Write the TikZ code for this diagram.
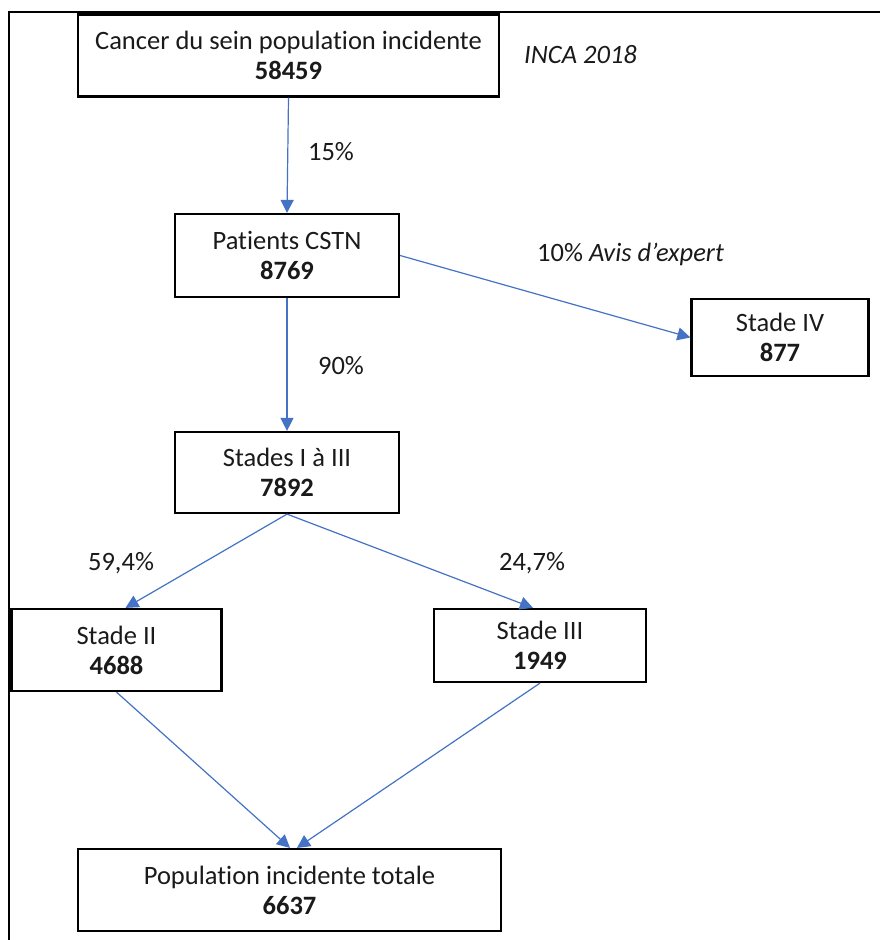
\documentclass[tikz,border=0pt]{standalone}
\usepackage{fontspec}
\setmainfont{Carlito}[Ligatures={NoCommon}]
\usetikzlibrary{arrows.meta}
\definecolor{arrowblue}{HTML}{4472C4}
\definecolor{txt}{HTML}{1A1A1A}
\begin{document}
\begin{tikzpicture}[x=1pt,y=-1pt,
  box/.style={draw=black, line width=2.2pt, fill=white, align=center, text=txt,
    inner sep=0pt, font=\fontsize{26.5}{30}\selectfont},
  lbl/.style={text=txt, inner sep=0pt, font=\fontsize{26.5}{30}\selectfont},
  flow/.style={draw=arrowblue, line width=1.2pt, -{Triangle[length=13pt,width=13pt]}}]
\useasboundingbox (0,0) rectangle (879,940);
\fill[white] (0,0) rectangle (879,940);
% outer frame (partially visible)
\draw[line width=2pt] (8.5,941) -- (8.5,12) -- (880,12);
% boxes
\node[box, minimum width=421pt, minimum height=82pt] (b1) at (288.5,55.5) {Cancer du sein population incidente\\\textbf{58459}};
\node[box, minimum width=224pt, minimum height=83pt] (b2) at (287,255.5) {Patients CSTN\\\textbf{8769}};
\node[box, minimum width=177pt, minimum height=77pt] (b4) at (780,337.5) {Stade IV\\\textbf{877}};
\node[box, minimum width=224pt, minimum height=81pt] (b3) at (287,472.5) {Stades I à III\\\textbf{7892}};
\node[box, minimum width=210pt, minimum height=82pt] (s2) at (116.5,650) {Stade II\\\textbf{4688}};
\node[box, minimum width=212pt, minimum height=73pt] (s3) at (540,645.5) {Stade III\\\textbf{1949}};
\node[box, minimum width=423pt, minimum height=82pt] (tot) at (289.5,890) {Population incidente totale\\\textbf{6637}};
% labels
\node[lbl, anchor=west] (inca) at (524,55) {\textit{INCA 2018}};
\node[lbl] (p15) at (331,152) {15\%};
\node[lbl, anchor=west] (p10) at (537,254) {10\% \textit{Avis d’expert}};
\node[lbl] (p90) at (341,366) {90\%};
\node[lbl] (p59) at (121,563) {59,4\%};
\node[lbl] (p24) at (532,563) {24,7\%};
% connectors
\draw[flow] (b1.south) -- (b2.north);
\draw[flow] (b2.east) -- (b4.west);
\draw[flow] (b2.south) -- (b3.north);
\draw[flow] (b3.south) -- ([xshift=9pt]s2.north);
\draw[flow] (b3.south) -- ([xshift=-7pt]s3.north);
\draw[flow] (s2.south) -- ([xshift=0.5pt]tot.north);
\draw[flow] (s3.south) -- ([xshift=7.5pt]tot.north);
\end{tikzpicture}
\end{document}
